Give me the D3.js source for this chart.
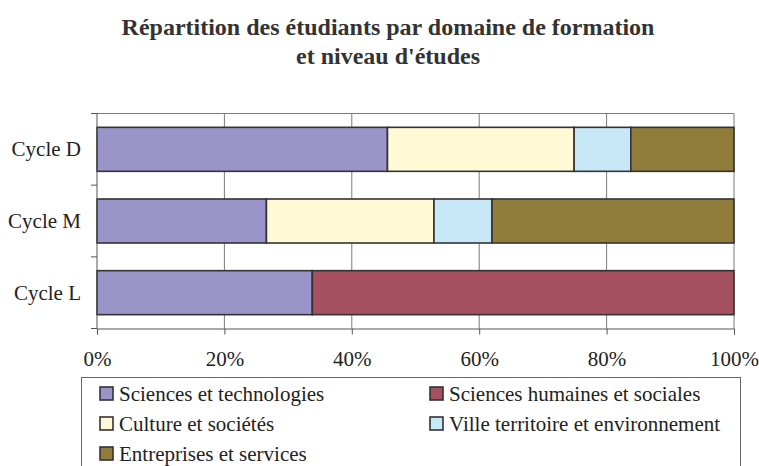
<!DOCTYPE html>
<html lang="fr">
<head>
    <meta charset="UTF-8">
    <title>Répartition des étudiants</title>
    <script src="https://d3js.org/d3.v7.min.js"></script>
    <style>
        body { margin: 0; background: #fff; font-family: "Liberation Serif", "Times New Roman", serif; }
        .grid line { stroke: #7a7a7a; stroke-width: 1; }
        .axis text { font-family: "Liberation Serif", serif; font-size: 21px; fill: #222; }
        .axis path, .axis line { stroke: #555; }
        .legend text { font-family: "Liberation Serif", serif; font-size: 21px; fill: #222; }
    </style>
</head>
<body>
    <svg id="chart" width="759" height="466"></svg>

    <script>
        // data (shares in %)
        var cycles = ["Cycle D", "Cycle M", "Cycle L"];
        var domaines = ["Sciences et technologies", "Sciences humaines et sociales",
                        "Culture et sociétés", "Ville territoire et environnement",
                        "Entreprises et services"];
        var sciencesTech   = [45.6, 26.6, 33.8];
        var sciencesHum    = [0, 0, 66.2];
        var culture        = [29.3, 26.3, 0];
        var ville          = [8.9, 9.1, 0];
        var entreprises    = [16.2, 38.0, 0];
        var xTicks = [0, 20, 40, 60, 80, 100];

        var colors = ["#9b94c8", "#a55060", "#fff9d6", "#c8e8f8", "#917d3b"];

        var rows = cycles.map(function(c, i) {
            return {
                cycle: c,
                "Sciences et technologies": sciencesTech[i],
                "Sciences humaines et sociales": sciencesHum[i],
                "Culture et sociétés": culture[i],
                "Ville territoire et environnement": ville[i],
                "Entreprises et services": entreprises[i]
            };
        });

        var margin = {top: 113.5, right: 25, bottom: 137.5, left: 97},
            width = 759 - margin.left - margin.right,
            height = 466 - margin.top - margin.bottom;

        var svg = d3.select("#chart");

        // title
        var title = svg.append("text")
            .attr("text-anchor", "middle")
            .style("font-family", "'Liberation Serif', serif")
            .style("font-size", "24px")
            .style("font-weight", "bold")
            .style("fill", "#333");
        title.append("tspan").attr("x", 388).attr("y", 35).text("Répartition des étudiants par domaine de formation");
        title.append("tspan").attr("x", 388).attr("y", 64).text("et niveau d'études");

        var g = svg.append("g")
            .attr("transform", "translate(" + margin.left + "," + margin.top + ")");

        var x = d3.scaleLinear().domain([0, 100]).range([0, width]);
        var y = d3.scaleBand().domain(cycles).range([0, height]).paddingInner(0.386).paddingOuter(0.193);
        var yBand = d3.scaleBand().domain(cycles).range([0, height]);

        // gridlines + frame
        g.append("g").attr("class", "grid")
            .selectAll("line").data(xTicks.slice(1))
            .enter().append("line")
            .attr("x1", function(d) { return x(d); })
            .attr("x2", function(d) { return x(d); })
            .attr("y1", 0).attr("y2", height);
        g.append("line").attr("x1", 0).attr("x2", width).attr("y1", 0).attr("y2", 0)
            .attr("stroke", "#7a7a7a");

        var stack = d3.stack().keys(domaines);
        var series = stack(rows);

        g.selectAll(".serie")
            .data(series)
            .enter().append("g")
            .attr("class", "serie")
            .attr("fill", function(d, i) { return colors[i]; })
            .selectAll("rect")
            .data(function(d) { return d.filter(function(v) { return v[1] - v[0] > 0; }); })
            .enter().append("rect")
            .attr("x", function(d) { return x(d[0]); })
            .attr("y", function(d) { return y(d.data.cycle); })
            .attr("width", function(d) { return x(d[1]) - x(d[0]); })
            .attr("height", y.bandwidth())
            .attr("stroke", "#333")
            .attr("stroke-width", 1.6);

        // axes
        g.append("g").attr("class", "axis")
            .attr("transform", "translate(0," + height + ")")
            .call(d3.axisBottom(x).tickValues(xTicks).tickSize(6).tickPadding(17)
                .tickFormat(function(d) { return d + "%"; }));

        var yAxis = g.append("g").attr("class", "axis")
            .call(d3.axisLeft(yBand).tickSize(0).tickPadding(16));
        yAxis.select(".domain").attr("d", "M0,0V" + height);
        yAxis.selectAll(".tick text").attr("dy", "0.34em");
        // category boundary ticks
        yAxis.selectAll(".sep").data([0, 1, 2, 3])
            .enter().append("line")
            .attr("class", "sep")
            .attr("x1", -6).attr("x2", 0)
            .attr("y1", function(d) { return d * yBand.step(); })
            .attr("y2", function(d) { return d * yBand.step(); })
            .attr("stroke", "#555");

        // legend
        var legend = svg.append("g").attr("class", "legend");
        legend.append("rect")
            .attr("x", 81.5).attr("y", 377.5).attr("width", 659).attr("height", 110)
            .attr("fill", "#fff").attr("stroke", "#666");
        var item = legend.selectAll(".item").data(domaines)
            .enter().append("g").attr("class", "item")
            .attr("transform", function(d, i) {
                return "translate(" + (i % 2 ? 430 : 100) + "," + (387 + Math.floor(i / 2) * 30) + ")";
            });
        item.append("rect").attr("width", 13).attr("height", 13)
            .attr("fill", function(d, i) { return colors[i]; })
            .attr("stroke", "#333").attr("stroke-width", 1.6);
        item.append("text").attr("x", 19).attr("y", 13.5).text(function(d) { return d; });
    </script>
</body>
</html>
